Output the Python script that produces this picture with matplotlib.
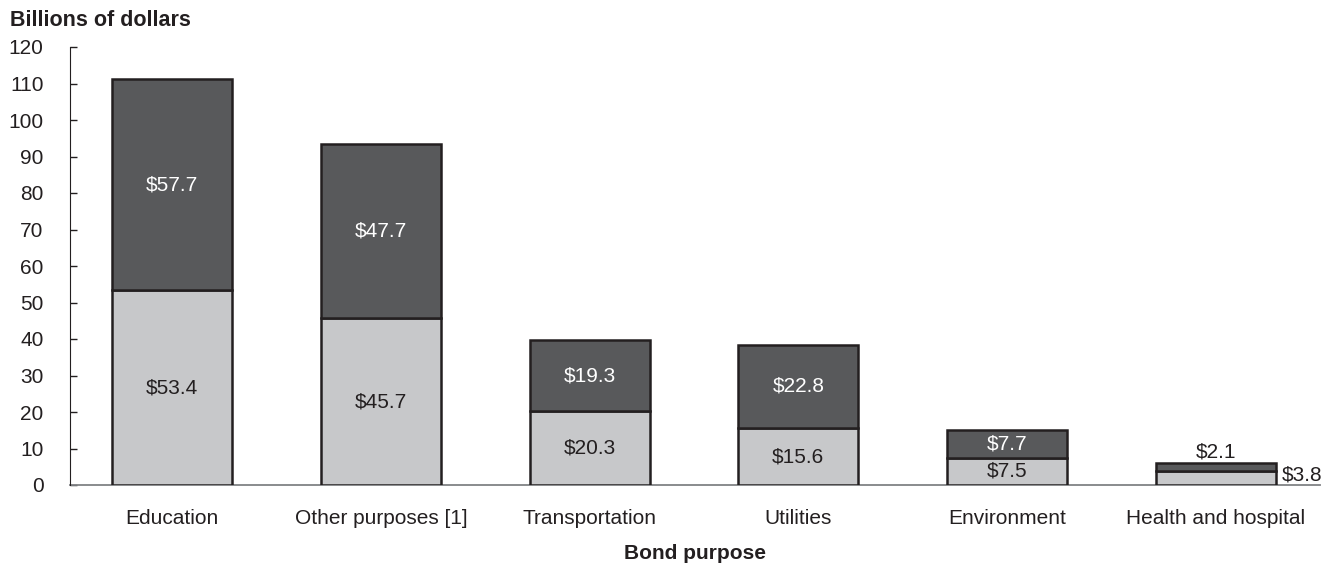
import matplotlib.pyplot as plt
import numpy as np

plt.rcParams['font.family'] = ['Liberation Sans', 'DejaVu Sans']

# data
purposes = ['Education', 'Other purposes [1]', 'Transportation', 'Utilities',
            'Environment', 'Health and hospital']
lower = [53.4, 45.7, 20.3, 15.6, 7.5, 3.8]
upper = [57.7, 47.7, 19.3, 22.8, 7.7, 2.1]

light = '#c7c8ca'
dark = '#58595b'
edge = '#231f20'
txt = '#231f20'
fs = 15

fig = plt.figure(figsize=(13.35, 5.65), dpi=100)
ax = fig.add_axes([70/1335, 1-485/565, (1320-70)/1335, (485-47)/565])

x = np.arange(len(purposes))
w = 0.575
ax.bar(x, lower, w, color=light, edgecolor=edge, linewidth=1.8, zorder=3)
ax.bar(x, upper, w, bottom=lower, color=dark, edgecolor=edge, linewidth=1.8, zorder=3)

for i in range(len(purposes)):
    lo, up = lower[i], upper[i]
    if i < 5:
        ax.text(x[i], lo/2, '$%.1f' % lo, ha='center', va='center', fontsize=fs, color=txt, zorder=4)
        ax.text(x[i], lo + up/2, '$%.1f' % up, ha='center', va='center', fontsize=fs, color='white', zorder=4)
    else:
        # small bar: labels sit outside
        ax.text(x[i], lo + up + 0.5, '$%.1f' % up, ha='center', va='bottom', fontsize=fs, color=txt)
        ax.text(x[i] + w/2 + 0.03, (lo + up)/2 - 0.2, '$%.1f' % lo, ha='left', va='center', fontsize=fs, color=txt)

ax.set_xlim(-0.49, 5.5)
ax.set_ylim(0, 120)
ax.set_yticks(np.arange(0, 121, 10))
ax.set_xticks(x)
ax.set_xticklabels(purposes)
ax.tick_params(axis='y', direction='in', length=5, width=1, colors=edge, labelsize=fs, labelcolor=txt, pad=19)
ax.tick_params(axis='x', length=0, labelsize=fs, labelcolor=txt, pad=17)

for s in ['top', 'right']:
    ax.spines[s].set_visible(False)
ax.spines['left'].set_color(edge)
ax.spines['bottom'].set_color('#808285')
ax.spines['bottom'].set_linewidth(1.3)
ax.spines['bottom'].set_zorder(2)

ax.set_xlabel('Bond purpose', fontsize=fs, fontweight='bold', color=txt, labelpad=12)
fig.text(10/1335, 1-20/565, 'Billions of dollars', fontsize=15.5, fontweight='bold', color=txt, va='center', ha='left')

plt.savefig('out.png', dpi=100)
